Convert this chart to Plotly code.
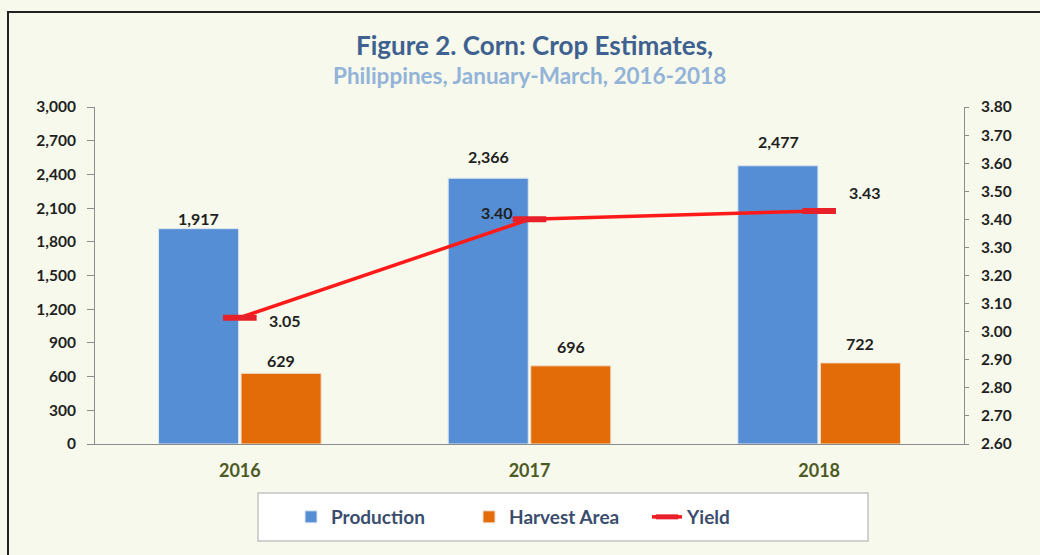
import plotly.graph_objects as go

years = ["2016", "2017", "2018"]
production = [1917, 2366, 2477]
harvest_area = [629, 696, 722]
yield_vals = [3.05, 3.40, 3.43]
yield_label_shift = [(45, -3), (-33, 7), (46, 18)]
production_label_shift = [-1, 10, 13]
harvest_label_shift = [1, 8, 8]

FONT = "Lato"
LABEL_FONT = dict(family=FONT, size=16, color="#1F1F1F", weight="bold")

fig = go.Figure()
fig.add_trace(go.Bar(
    x=years, y=production, name="Production",
    marker=dict(color="#558ED5", line=dict(color="#DDE6F0", width=1)),
))
fig.add_trace(go.Bar(
    x=years, y=harvest_area, name="Harvest Area",
    marker=dict(color="#E36C09", line=dict(color="#F0E0D0", width=1)),
))
fig.add_trace(go.Scatter(
    x=years, y=yield_vals, name="Yield", yaxis="y2",
    mode="lines+markers",
    line=dict(color="#FF1A1A", width=3.5),
    marker=dict(symbol="line-ew", size=24, line=dict(color="#E8202A", width=6)),
    cliponaxis=False,
))

L, R, T, B = 95, 76, 107, 111
W, H = 1040, 555
pw, ph = W - L - R, H - T - B
def px_x(p):
    return (p - L) / pw
def px_y(p):
    return (H - B - p) / ph

annotations = [
    dict(text="Figure 2. Corn: Crop Estimates,", xref="paper", yref="paper",
         x=px_x(534), y=px_y(45), xanchor="center", yanchor="middle", showarrow=False,
         font=dict(family=FONT, size=26, color="#3E6190", weight="bold")),
    dict(text="Philippines, January-March, 2016-2018", xref="paper", yref="paper",
         x=px_x(529), y=px_y(75), xanchor="center", yanchor="middle", showarrow=False,
         font=dict(family=FONT, size=22.5, color="#93B3D9", weight="bold")),
]
# category axis: annotation x given as category index
for i, (v, dy) in enumerate(zip(production, production_label_shift)):
    annotations.append(dict(x=i, y=v, xref="x", yref="y", text=f"{v:,}",
                            xshift=-41, yshift=dy, yanchor="bottom", showarrow=False,
                            font=LABEL_FONT))
for i, (v, dy) in enumerate(zip(harvest_area, harvest_label_shift)):
    annotations.append(dict(x=i, y=v, xref="x", yref="y", text=f"{v:,}",
                            xshift=41, yshift=dy, yanchor="bottom", showarrow=False,
                            font=LABEL_FONT))
for i, (v, (dx, dy)) in enumerate(zip(yield_vals, yield_label_shift)):
    annotations.append(dict(x=i, y=v, xref="x", yref="y2", text=f"{v:.2f}",
                            xshift=dx, yshift=dy, yanchor="middle", showarrow=False,
                            font=LABEL_FONT))

shapes = [
    dict(type="rect", xref="paper", yref="paper",
         x0=px_x(8), x1=px_x(1060), y0=px_y(575), y1=px_y(12),
         line=dict(color="#222222", width=2), fillcolor="rgba(0,0,0,0)", layer="below"),
    dict(type="rect", xref="paper", yref="paper",
         x0=px_x(258), x1=px_x(868), y0=px_y(541), y1=px_y(493),
         line=dict(color="#C4C4C4", width=1.5), fillcolor="#FFFFFF", layer="above"),
]

fig.update_layout(
    width=W, height=H,
    margin=dict(l=L, r=R, t=T, b=B),
    paper_bgcolor="#F6F9EB", plot_bgcolor="#F6F9EB",
    barmode="group", bargap=0.43, bargroupgap=0.03,
    font=dict(family=FONT),
    annotations=annotations,
    shapes=shapes,
    xaxis=dict(
        type="category", range=[-0.5, 2.5],
        showline=True, linecolor="#8C8C8C", linewidth=1,
        tickfont=dict(family=FONT, size=18, color="#4E5A24", weight="bold"),
        ticks="", showgrid=False, ticklabelstandoff=10,
    ),
    yaxis=dict(
        range=[0, 3000], dtick=300, tickformat=",d",
        showline=True, linecolor="#8C8C8C", linewidth=1,
        ticks="outside", ticklen=7, tickcolor="#8C8C8C",
        showgrid=False, zeroline=False, ticklabelstandoff=8,
        tickfont=dict(family=FONT, size=15.5, color="#1F1F1F", weight="bold"),
    ),
    yaxis2=dict(
        range=[2.6, 3.8], dtick=0.1, tickformat=".2f",
        overlaying="y", side="right",
        showline=True, linecolor="#8C8C8C", linewidth=1,
        ticks="outside", ticklen=4, tickcolor="#8C8C8C",
        showgrid=False, zeroline=False, ticklabelstandoff=9,
        tickfont=dict(family=FONT, size=15.5, color="#1F1F1F", weight="bold"),
    ),
    legend=dict(
        orientation="h", x=px_x(558), xanchor="center", y=px_y(517), yanchor="middle",
        bgcolor="rgba(0,0,0,0)", borderwidth=0,
        font=dict(family=FONT, size=19, color="#3B4D6E", weight="bold"),
        itemwidth=30, entrywidth=133, entrywidthmode="pixels",
    ),
)

fig.write_html("out.html")
